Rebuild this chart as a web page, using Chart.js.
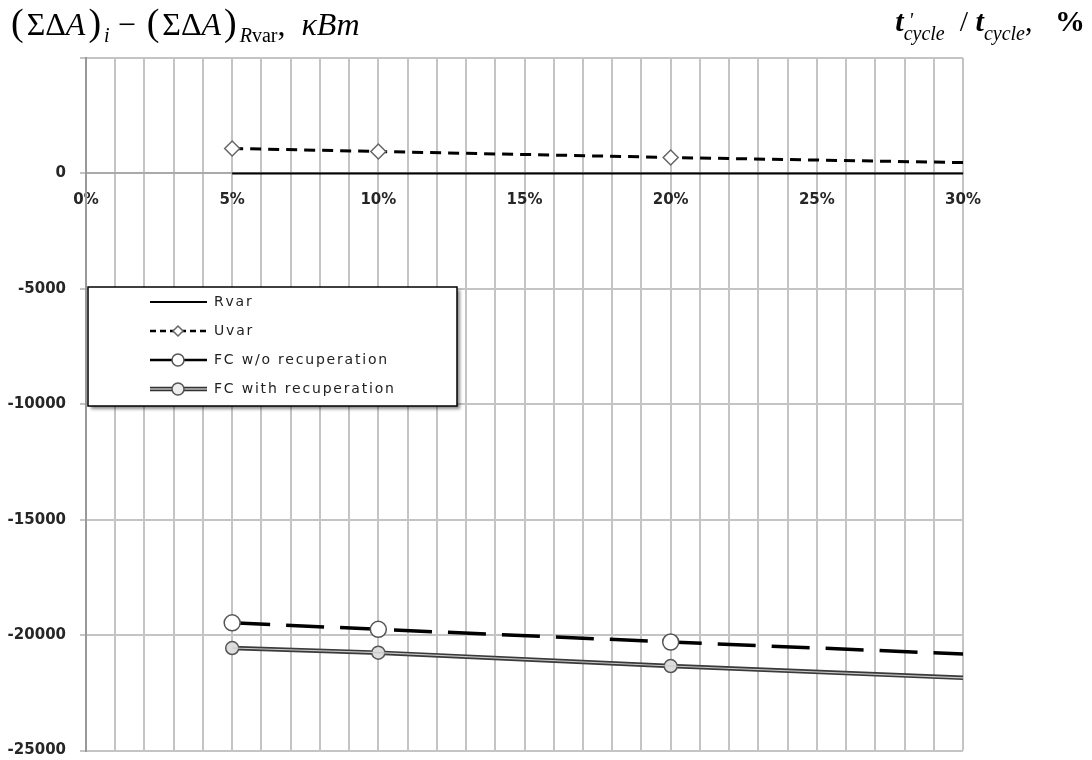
<!DOCTYPE html>
<html>
<head>
<meta charset="utf-8">
<script src="https://cdn.jsdelivr.net/npm/chart.js@4.4.1/dist/chart.umd.min.js"></script>
<style>
  body { margin: 0; background: #fff; }
  #wrap { position: relative; width: 1092px; height: 760px; overflow: hidden; }
  #ytitle { position: absolute; left: 8px; top: 0px; font: 32px 'Liberation Serif', serif; color: #000; white-space: nowrap; }
  #ytitle sub { font-size: 20px; vertical-align: -7px; }
  #ytitle .par { font-size: 38px; margin: 0 3px; }
  #xtitle { position: absolute; right: 7px; top: 4px; font: 30px 'Liberation Serif', serif; color: #000; white-space: nowrap; }
  #xtitle .st { display: inline-block; vertical-align: -9px; line-height: 13px; font-size: 20px; font-style: italic; }
  #xtitle .st span { display: block; }
</style>
</head>
<body>
<div id="wrap">
  <canvas id="chart" width="1092" height="760"></canvas>
  <div id="ytitle"><span class="par">(</span>ΣΔ<i>A</i><span class="par">)</span><sub><i>i</i></sub> − <span class="par">(</span>ΣΔ<i>A</i><span class="par">)</span><sub><i>R</i>var</sub>, &nbsp;<i>κBm</i></div>
  <div id="xtitle"><b><i>t</i></b><span class="st"><span>&nbsp;'</span><span>cycle</span></span> &nbsp;/ <b><i>t</i></b><span class="st"><span>&nbsp;</span><span>cycle</span></span>, &nbsp;&nbsp;<b>%</b></div>
</div>
<script>
// x values in percent
const xValues = [5, 10, 20, 30];
const rvar = [0, 0, 0, 0];
const uvar = [1080, 950, 690, 470];
const fcNoRec = [-19470, -19750, -20300, -20820];
const fcRec = [-20560, -20760, -21340, -21850];
const markerSize = [1, 1, 1, 0]; // no marker at 30%
const seriesNames = ['Rvar', 'Uvar', 'FC w/o recuperation', 'FC with recuperation'];
const yTicks = [5000, 0, -5000, -10000, -15000, -20000, -25000];

const pts = arr => xValues.map((x, i) => ({x: x, y: arr[i]}));

const canvas = document.getElementById('chart');

const legendBox = {//legend drawn inside plot like the excel one
  id: 'legendBox',
  afterDraw(chart) {
    const ctx = chart.ctx;
    const bx = 88, by = 287, bw = 369, bh = 119;
    ctx.save();
    ctx.shadowColor = 'rgba(0,0,0,0.45)';
    ctx.shadowOffsetX = 3; ctx.shadowOffsetY = 3; ctx.shadowBlur = 3;
    ctx.fillStyle = '#fff';
    ctx.fillRect(bx, by, bw, bh);
    ctx.shadowColor = 'transparent';
    ctx.strokeStyle = '#000'; ctx.lineWidth = 1.5;
    ctx.strokeRect(bx, by, bw, bh);

    const rows = [302, 331, 360, 389];
    const x1 = 150, x2 = 207, xm = 178;
    // Rvar
    ctx.strokeStyle = '#000'; ctx.lineWidth = 2;
    ctx.beginPath(); ctx.moveTo(x1, rows[0]); ctx.lineTo(x2, rows[0]); ctx.stroke();
    // Uvar
    ctx.setLineDash([6, 4]); ctx.lineWidth = 2.5;
    ctx.beginPath(); ctx.moveTo(x1, rows[1]); ctx.lineTo(x2, rows[1]); ctx.stroke();
    ctx.setLineDash([]);
    ctx.fillStyle = '#fff'; ctx.strokeStyle = '#666'; ctx.lineWidth = 1.5;
    ctx.beginPath();
    ctx.moveTo(xm, rows[1] - 5); ctx.lineTo(xm + 5, rows[1]); ctx.lineTo(xm, rows[1] + 5); ctx.lineTo(xm - 5, rows[1]);
    ctx.closePath(); ctx.fill(); ctx.stroke();
    // FC w/o
    ctx.strokeStyle = '#000'; ctx.lineWidth = 2.5;
    ctx.beginPath(); ctx.moveTo(x1, rows[2]); ctx.lineTo(x2, rows[2]); ctx.stroke();
    ctx.strokeStyle = '#555'; ctx.lineWidth = 1.5;
    ctx.beginPath(); ctx.arc(xm, rows[2], 6, 0, Math.PI * 2); ctx.fill(); ctx.stroke();
    // FC with
    ctx.strokeStyle = '#333'; ctx.lineWidth = 4.5;
    ctx.beginPath(); ctx.moveTo(x1, rows[3]); ctx.lineTo(x2, rows[3]); ctx.stroke();
    ctx.strokeStyle = '#bbb'; ctx.lineWidth = 1.5;
    ctx.beginPath(); ctx.moveTo(x1, rows[3]); ctx.lineTo(x2, rows[3]); ctx.stroke();
    ctx.fillStyle = '#eee'; ctx.strokeStyle = '#555'; ctx.lineWidth = 1.5;
    ctx.beginPath(); ctx.arc(xm, rows[3], 6, 0, Math.PI * 2); ctx.fill(); ctx.stroke();

    ctx.fillStyle = '#222';
    ctx.font = '14px "DejaVu Sans"';
    ctx.letterSpacing = '1.8px';
    ctx.textBaseline = 'middle';
    seriesNames.forEach((n, i) => ctx.fillText(n, 214, rows[i]));
    ctx.restore();
  }
};

new Chart(canvas, {
  type: 'line',
  data: {
    datasets: [
      {label: seriesNames[0], data: pts(rvar), borderColor: '#000', borderWidth: 2, pointRadius: 0},
      {label: seriesNames[1], data: pts(uvar), borderColor: '#000', borderWidth: 3, borderDash: [11, 7],
        pointStyle: 'rectRot', pointRadius: markerSize.map(m => m * 7.5), pointBackgroundColor: '#fff',
        pointBorderColor: '#666', pointBorderWidth: 1.5},
      {label: seriesNames[2], data: pts(fcNoRec), borderColor: '#000', borderWidth: 3.5, borderDash: [38, 16],
        pointRadius: markerSize.map(m => m * 8), pointBackgroundColor: '#fff',
        pointBorderColor: '#555', pointBorderWidth: 1.5},
      {label: seriesNames[3] + ' inner', data: pts(fcRec), borderColor: '#c8c8c8', borderWidth: 1.2, pointRadius: 0},
      {label: seriesNames[3], data: pts(fcRec), borderColor: '#3a3a3a', borderWidth: 4.5,
        pointRadius: markerSize.map(m => m * 6.5), pointBackgroundColor: '#ddd',
        pointBorderColor: '#555', pointBorderWidth: 1.5}
    ]
  },
  options: {
    responsive: false,
    animation: false,
    layout: {padding: {left: 0, top: 58, right: 129, bottom: 8}},
    plugins: {legend: {display: false}, tooltip: {enabled: false}},
    scales: {
      x: {
        type: 'linear', min: 0, max: 30,
        position: {y: 0},
        grid: {color: '#c4c4c4', lineWidth: 2, drawTicks: false},
        border: {color: '#aaa', width: 2},
        ticks: {
          stepSize: 1, autoSkip: false, maxRotation: 0, padding: 18,
          color: '#262626', font: {family: 'DejaVu Sans', size: 15, weight: 'bold'},
          callback: v => (v % 5 === 0 ? v + '%' : '')
        }
      },
      y: {
        min: -25000, max: 5000,
        afterFit: s => { s.width = 86; s.paddingTop = 0; s.paddingBottom = 0; },
        afterBuildTicks: s => { s.ticks = yTicks.map(v => ({value: v})); },
        grid: {color: '#c4c4c4', lineWidth: 2, tickLength: 6},
        border: {color: '#999', width: 2},
        ticks: {
          padding: 14, color: '#262626', font: {family: 'DejaVu Sans', size: 15, weight: 'bold'},
          callback: v => (v === 5000 ? '' : String(v))
        }
      }
    }
  },
  plugins: [legendBox]
});
</script>
</body>
</html>
